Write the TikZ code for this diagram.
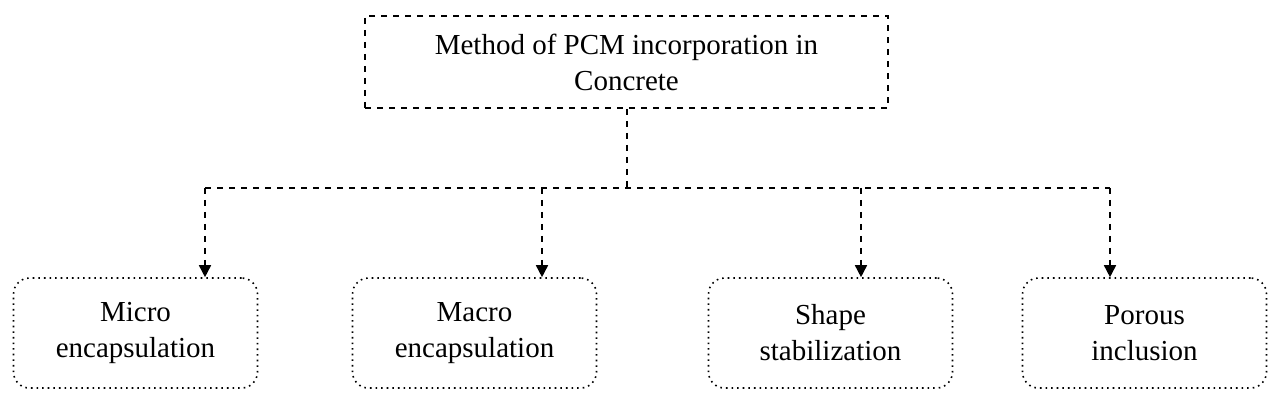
\documentclass[tikz,border=0pt]{standalone}
\usepackage{fontspec}
\setmainfont{Liberation Serif}
\usetikzlibrary{arrows.meta}
\begin{document}
\begin{tikzpicture}[x=0.5pt,y=-0.5pt,
  top/.style={draw,dashed,thick,minimum width=261.5pt,minimum height=46pt,align=center,font=\fontsize{14.5}{18}\selectfont},
  leaf/.style={draw,dotted,thick,rounded corners=8pt,minimum width=122pt,minimum height=55pt,align=center,font=\fontsize{14.5}{18}\selectfont},
  conn/.style={dashed,thick,-{Triangle[length=6pt,width=6pt]}}]
\useasboundingbox (0,0) rectangle (1280,406);
\node[top] (t) at (626.5,62) {Method of PCM incorporation in\\Concrete};
\node[leaf] (a) at (135.5,333) {Micro\\encapsulation};
\node[leaf] (b) at (474.5,333) {Macro\\encapsulation};
\node[leaf] (c) at (830.5,333) {Shape\\stabilization};
\node[leaf] (d) at (1144.5,333) {Porous\\inclusion};
\coordinate (j) at (627,188);
\coordinate (ja) at (205,188);
\coordinate (jb) at (542,188);
\coordinate (jc) at (861,188);
\coordinate (jd) at (1110,188);
\draw[dashed,thick] (j |- t.south) -- (j);
\draw[dashed,thick] (ja) -- (jd);
\draw[conn] (ja) -- (ja |- a.north);
\draw[conn] (jb) -- (jb |- b.north);
\draw[conn] (jc) -- (jc |- c.north);
\draw[conn] (jd) -- (jd |- d.north);
\end{tikzpicture}
\end{document}
